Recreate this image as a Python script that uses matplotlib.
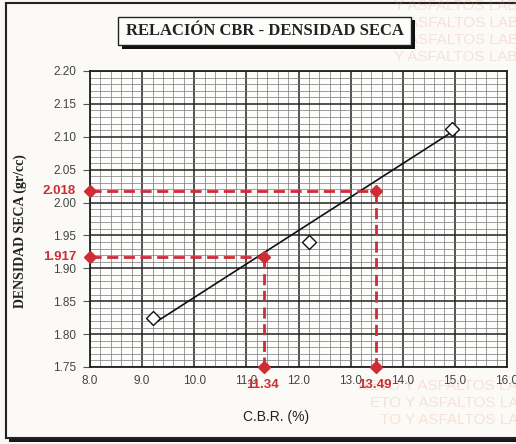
import matplotlib
matplotlib.use("Agg")
import matplotlib.pyplot as plt
from matplotlib.patches import Rectangle
import numpy as np

# ---- data ----
cbr_points = [9.2, 12.2, 14.95]
dens_points = [1.824, 1.940, 2.112]
trend_x = [9.2, 14.9]
trend_y = [1.815, 2.105]
target_cbr = [11.34, 13.49]
target_dens = [1.917, 2.018]
target_cbr_labels = ["11.34", "13.49"]
target_dens_labels = ["1.917", "2.018"]
x_ticks = [8.0, 9.0, 10.0, 11.0, 12.0, 13.0, 14.0, 15.0, 16.0]
y_ticks = [1.75, 1.80, 1.85, 1.90, 1.95, 2.00, 2.05, 2.10, 2.15, 2.20]
watermark_top = ["Y ASFALTOS LAB", "ASFALTOS LAB", "ASFALTOS LAB", "Y ASFALTOS LAB"]
watermark_bottom = ["RETO Y ASFALTOS LA", "ETO Y ASFALTOS LA", "TO Y ASFALTOS LA"]

W, H = 516, 444
fig = plt.figure(figsize=(W / 100, H / 100), dpi=100)
fig.patch.set_facecolor("#f8f7f3")

red = "#cf2c36"

# outer frame with shadow
fig.patches.append(Rectangle((9 / W, 1 - 442 / H), 520 / W, 436 / H,
                             transform=fig.transFigure, facecolor="#1a1a1a",
                             edgecolor="none", zorder=0))
fig.patches.append(Rectangle((6 / W, 1 - 438 / H), 520 / W, 435 / H,
                             transform=fig.transFigure, facecolor="#fbfaf7",
                             edgecolor="#222222", lw=1.5, zorder=0.5))

# faint background watermark (scan stamp), kept behind the chart
for i, txt in enumerate(watermark_top):
    fig.text(518 / W, 1 - (6 + 17 * i) / H, txt, ha="right", va="center", fontsize=11,
             family="Liberation Sans", color="#e89a78", alpha=0.25, zorder=0.8,
             clip_on=True)
for i, txt in enumerate(watermark_bottom):
    fig.text(518 / W, 1 - (386 + 17 * i) / H, txt, ha="right", va="center", fontsize=11,
             family="Liberation Sans", color="#e89a78", alpha=0.25, zorder=0.8,
             clip_on=True)

ax = fig.add_axes([90 / W, 1 - 367 / H, 417 / W, 296 / H])
ax.set_zorder(5)
ax.set_facecolor("#fdfdfb")
ax.set_xlim(8.0, 16.0)
ax.set_ylim(1.75, 2.20)

ax.set_xticks(x_ticks)
ax.set_xticklabels([f"{v:.1f}" for v in x_ticks])
ax.set_yticks(y_ticks)
ax.set_yticklabels([f"{v:.2f}" for v in y_ticks])
ax.set_xticks(np.arange(8.0, 16.0001, 0.2), minor=True)
ax.set_yticks(np.arange(1.75, 2.2001, 0.01), minor=True)
ax.grid(which="major", color="#222222", lw=1.1)
ax.grid(which="minor", color="#777777", lw=0.5)
ax.set_axisbelow(True)
ax.tick_params(which="minor", length=0)
ax.tick_params(which="major", axis="x", length=0, pad=6, labelsize=8.5, labelcolor="#444444")
ax.tick_params(which="major", axis="y", length=5, width=0.8, color="#555555",
               pad=5, labelsize=8.5, labelcolor="#444444")
for lab in ax.get_xticklabels() + ax.get_yticklabels():
    lab.set_family("Liberation Sans")
for s in ax.spines.values():
    s.set_color("#222222")
    s.set_linewidth(1.3)

# trend line and data points
ax.plot(trend_x, trend_y, color="#111111", lw=1.2, zorder=3)
ax.plot(cbr_points, dens_points, linestyle="none", marker="D", markersize=7,
        markerfacecolor="white", markeredgecolor="#111111", markeredgewidth=1.0, zorder=4)

# target dashed lines
for cx, dy in zip(target_cbr, target_dens):
    ax.plot([8.0, cx], [dy, dy], color=red, lw=2.0, ls=(0, (4, 2)), zorder=5, clip_on=False)
    ax.plot([cx, cx], [dy, 1.75], color=red, lw=2.0, ls=(0, (4, 2)), zorder=5, clip_on=False)
    ax.plot([8.0, cx, cx], [dy, dy, 1.75], linestyle="none", marker="D", markersize=6,
            color=red, zorder=6, clip_on=False)

for cx, lab in zip(target_cbr, target_cbr_labels):
    ax.annotate(lab, xy=(cx, 1.75), xytext=(-1, -13), textcoords="offset points",
                ha="center", va="center", color=red, fontsize=9.5, fontweight="bold",
                family="Liberation Sans", annotation_clip=False)
for dy, lab in zip(target_dens, target_dens_labels):
    ax.annotate(lab, xy=(8.0, dy), xytext=(-10, 0), textcoords="offset points",
                ha="right", va="center", color=red, fontsize=9.5, fontweight="bold",
                family="Liberation Sans", annotation_clip=False)

ax.set_ylabel("DENSIDAD SECA (gr/cc)", fontsize=10, family="Liberation Serif",
              fontweight="bold", color="#222222")
ax.yaxis.set_label_coords((27 - 90) / 417, 0.46)
fig.text(276 / W, 1 - 417 / H, "C.B.R. (%)", ha="center", va="center", fontsize=10,
         family="Liberation Sans", color="#222222")

# title with shadowed box
fig.patches.append(Rectangle((122 / W, 1 - 49 / H), 293 / W, 29 / H,
                             transform=fig.transFigure, facecolor="#111111",
                             edgecolor="none", zorder=1))
fig.patches.append(Rectangle((118 / W, 1 - 45 / H), 293 / W, 28 / H,
                             transform=fig.transFigure, facecolor="#fdfdfb",
                             edgecolor="#222222", lw=1.0, zorder=2))
fig.text(265 / W, 1 - 31 / H, "RELACIÓN CBR - DENSIDAD SECA", ha="center", va="center",
         fontsize=12, fontweight="bold", family="Liberation Serif", color="#222222", zorder=3)

fig.savefig("out.png", dpi=100, facecolor=fig.get_facecolor())
